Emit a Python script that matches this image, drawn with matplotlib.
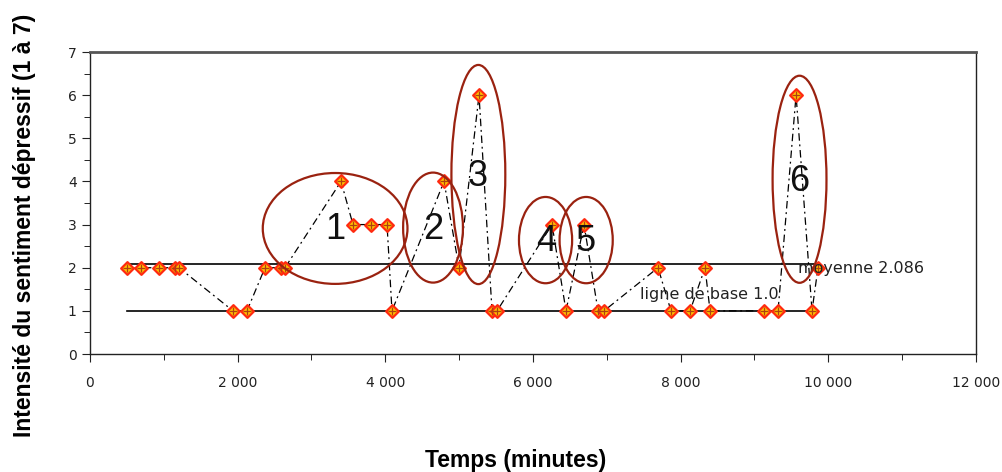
import matplotlib
matplotlib.use("Agg")
import matplotlib.pyplot as plt
from matplotlib.patches import Ellipse
from matplotlib.ticker import FuncFormatter, MultipleLocator

# Data
temps = [501, 691, 935, 1151, 1205, 1937, 2126, 2370, 2587, 2641,
         3400, 3562, 3806, 4023, 4090, 4795, 4998, 5269, 5445, 5513,
         6258, 6447, 6691, 6881, 6962, 7693, 7869, 8127, 8330, 8398,
         9129, 9319, 9563, 9779, 9860]
intensite = [2, 2, 2, 2, 2, 1, 1, 2, 2, 2,
             4, 3, 3, 3, 1, 4, 2, 6, 1, 1,
             3, 1, 3, 1, 1, 2, 1, 1, 2, 1,
             1, 1, 6, 1, 2]
moyenne = 2.086
base = 1.0
episodes = ["1", "2", "3", "4", "5", "6"]
ep_center_x = [3320, 4646, 5260, 6170, 6720, 9610]
ep_center_y = [2.91, 2.93, 4.16, 2.64, 2.64, 4.05]
ep_width = [1960, 810, 730, 720, 720, 730]
ep_height = [2.57, 2.55, 5.08, 2.0, 2.0, 4.8]
lab_x = [3318, 4646, 5255, 6176, 6718, 9603]
lab_y = [2.88, 2.88, 4.12, 2.6, 2.6, 4.0]

fig = plt.figure(figsize=(10.03, 4.72), dpi=100)
ax = fig.add_axes([90/1003, 1-354/472, (976-90)/1003, (354-52)/472])

ax.plot(temps, intensite, color="black", lw=0.9, ls=(0, (6, 3, 1.5, 3)), zorder=2)
ax.plot([min(temps), max(temps)], [moyenne, moyenne], color="black", lw=1.2, zorder=1)
ax.plot([min(temps), max(temps)], [base, base], color="black", lw=1.2, zorder=1)
ax.scatter(temps, intensite, marker="D", s=42, facecolor="#ffc000", edgecolor="#ff2a10", lw=1.6, zorder=3)
ax.scatter(temps, intensite, marker="+", s=36, color="#b04010", lw=0.9, zorder=4)

ax.text(9590, 1.99, "moyenne 2.086", fontsize=11.5, va="center", ha="left", color="#222222", zorder=5)
ax.text(7450, 1.37, "ligne de base 1.0", fontsize=11.5, va="center", ha="left", color="#222222", zorder=5)

for cx, cy, w, h in zip(ep_center_x, ep_center_y, ep_width, ep_height):
    ax.add_patch(Ellipse((cx, cy), w, h, fill=False, edgecolor="#9a2210", lw=1.6, zorder=6))
for lab, cx, cy in zip(episodes, lab_x, lab_y):
    ax.text(cx, cy, lab, fontsize=26, ha="center", va="center", color="#111111",
            family="Liberation Sans", zorder=7)

ax.set_xlim(0, 12000)
ax.set_ylim(0, 7)
ax.xaxis.set_major_locator(MultipleLocator(2000))
ax.xaxis.set_minor_locator(MultipleLocator(1000))
ax.yaxis.set_major_locator(MultipleLocator(1))
ax.yaxis.set_minor_locator(MultipleLocator(0.5))
ax.xaxis.set_major_formatter(FuncFormatter(lambda v, p: f"{int(v):,}".replace(",", " ")))
ax.tick_params(axis="both", which="major", direction="out", length=6, labelsize=10, colors="#222222")
ax.tick_params(axis="both", which="minor", direction="out", length=4)
ax.tick_params(axis="x", pad=10)
for s in ax.spines.values():
    s.set_linewidth(1.0)
    s.set_color("#222222")
ax.spines["top"].set_linewidth(2.0)
ax.spines["top"].set_color("#555555")

fig.text(25/1003, 1-225/472, "Intensité du sentiment dépressif (1 à 7)", rotation=90,
         fontsize=16.5, fontweight="bold", ha="center", va="center", family="Liberation Sans")
fig.text(516/1003, 1-460/472, "Temps (minutes)", fontsize=16.5, fontweight="bold",
         ha="center", va="center", family="Liberation Sans")

fig.savefig("out.png", dpi=100)
